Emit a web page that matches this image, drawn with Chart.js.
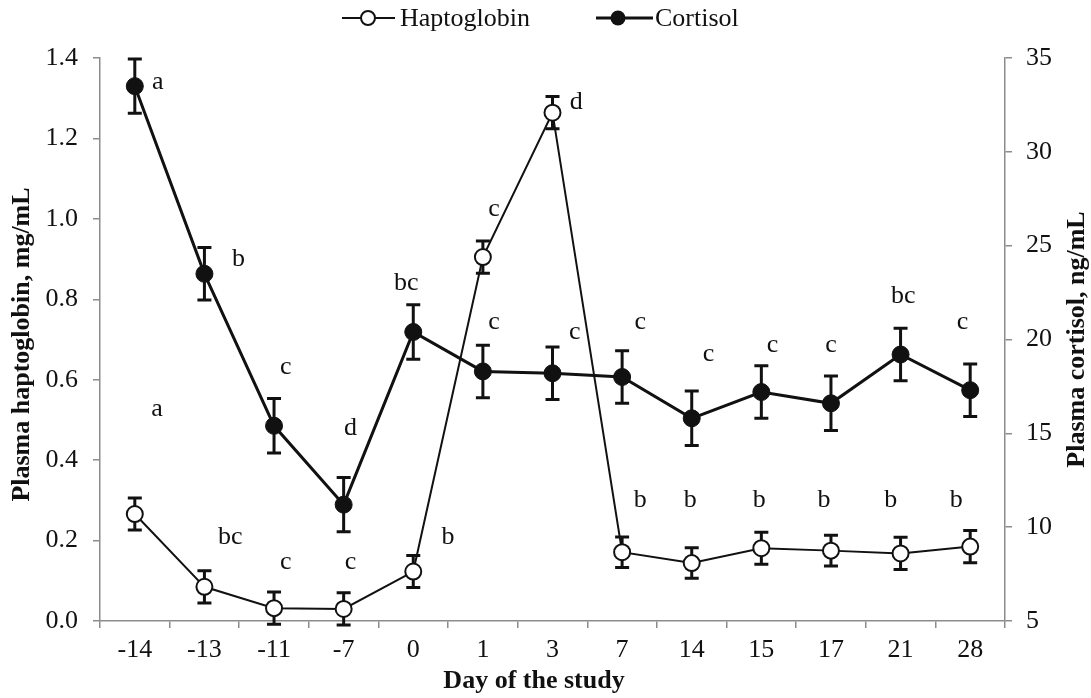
<!DOCTYPE html>
<html>
<head>
<meta charset="utf-8">
<script src="https://cdn.jsdelivr.net/npm/chart.js@4/dist/chart.umd.min.js"></script>
<style>
  html, body { margin: 0; padding: 0; background: #fff; }
  canvas { display: block; }
</style>
</head>
<body>
<canvas id="grafico" width="1091" height="698"></canvas>
<script>
// Días del estudio (eje X)
const dias = ['-14', '-13', '-11', '-7', '0', '1', '3', '7', '14', '15', '17', '21', '28'];

// Haptoglobina, mg/mL (eje izquierdo)
const haptoglobina = [0.266, 0.085, 0.032, 0.030, 0.123, 0.905, 1.264, 0.171, 0.144, 0.181, 0.175, 0.168, 0.185];
const haptoglobinaEE = [0.040, 0.040, 0.040, 0.040, 0.040, 0.040, 0.040, 0.038, 0.038, 0.040, 0.038, 0.040, 0.040];
const haptoglobinaLetras = ['a', 'bc', 'c', 'c', 'b', 'c', 'd', 'b', 'b', 'b', 'b', 'b', 'b'];

// Cortisol, ng/mL (eje derecho)
const cortisol = [33.5, 23.5, 15.4, 11.2, 20.4, 18.3, 18.2, 18.0, 15.8, 17.2, 16.6, 19.2, 17.3];
const cortisolEE = [1.45, 1.40, 1.45, 1.45, 1.45, 1.40, 1.40, 1.40, 1.45, 1.40, 1.45, 1.40, 1.40];
const cortisolLetras = ['a', 'b', 'c', 'd', 'bc', 'c', 'c', 'c', 'c', 'c', 'c', 'bc', 'c'];

// Ticks de los ejes
const ticksIzq = { min: 0, max: 1.4, paso: 0.2 };
const ticksDer = { min: 5, max: 35, paso: 5 };

// Colocación de las letras (desplazamiento en categorías, altura en unidades del eje)
const posLetrasHapto = [[0.32, 0.526], [0.37, 0.209], [0.17, 0.147], [0.10, 0.147], [0.50, 0.209], [0.16, 1.024],
    [0.34, 1.29], [0.26, 0.301], [-0.02, 0.301], [-0.03, 0.301], [-0.10, 0.301], [-0.14, 0.301], [-0.20, 0.301]];
const posLetrasCort = [[0.33, 33.7], [0.49, 24.3], [0.17, 18.5], [0.10, 15.3], [-0.10, 23.0], [0.16, 20.9],
    [0.32, 20.4], [0.26, 20.9], [0.24, 19.2], [0.16, 19.7], [0.0, 19.7], [0.04, 22.3], [-0.11, 20.9]];

const fuente = 'Liberation Serif, "Times New Roman", serif';
const gris = '#8c8c8c';
const negro = '#111';

// Barras de error (se dibujan antes de los puntos)
const barrasError = {
    id: 'barrasError',
    beforeDatasetsDraw(chart) {
        const ctx = chart.ctx;
        const x = chart.scales.x;
        ctx.save();
        ctx.strokeStyle = negro;
        ctx.lineWidth = 3;
        const dibujar = (valores, errores, escala) => {
            valores.forEach((v, i) => {
                const px = x.getPixelForValue(i);
                const arriba = escala.getPixelForValue(v + errores[i]);
                const abajo = escala.getPixelForValue(v - errores[i]);
                ctx.beginPath();
                ctx.moveTo(px, arriba); ctx.lineTo(px, abajo);
                ctx.moveTo(px - 7, arriba); ctx.lineTo(px + 7, arriba);
                ctx.moveTo(px - 7, abajo); ctx.lineTo(px + 7, abajo);
                ctx.stroke();
            });
        };
        dibujar(cortisol, cortisolEE, chart.scales.y1);
        dibujar(haptoglobina, haptoglobinaEE, chart.scales.y);
        ctx.restore();
    }
};

// Letras, títulos de ejes y leyenda
const textos = {
    id: 'textos',
    afterDraw(chart) {
        const ctx = chart.ctx;
        const x = chart.scales.x;
        const area = chart.chartArea;
        const ancho = x.getPixelForValue(1) - x.getPixelForValue(0);
        ctx.save();
        ctx.fillStyle = negro;
        ctx.textAlign = 'center';
        ctx.textBaseline = 'middle';
        ctx.font = '26px ' + fuente;
        haptoglobinaLetras.forEach((l, i) => {
            const p = posLetrasHapto[i];
            ctx.fillText(l, x.getPixelForValue(i) + p[0] * ancho, chart.scales.y.getPixelForValue(p[1]));
        });
        cortisolLetras.forEach((l, i) => {
            const p = posLetrasCort[i];
            ctx.fillText(l, x.getPixelForValue(i) + p[0] * ancho, chart.scales.y1.getPixelForValue(p[1]));
        });

        // títulos
        ctx.font = 'bold 26px ' + fuente;
        ctx.fillText('Day of the study', 534, 681);
        const centroY = (area.top + area.bottom) / 2;
        ctx.save();
        ctx.translate(22, centroY + 5);
        ctx.rotate(-Math.PI / 2);
        ctx.fillText('Plasma haptoglobin, mg/mL', 0, 0);
        ctx.restore();
        ctx.save();
        ctx.translate(1077, centroY);
        ctx.rotate(-Math.PI / 2);
        ctx.fillText('Plasma cortisol, ng/mL', 0, 0);
        ctx.restore();

        // leyenda
        ctx.font = '26px ' + fuente;
        ctx.textAlign = 'left';
        ctx.strokeStyle = negro;
        ctx.lineWidth = 2;
        ctx.beginPath(); ctx.moveTo(342, 18); ctx.lineTo(395, 18); ctx.stroke();
        ctx.beginPath(); ctx.arc(368, 18, 7, 0, Math.PI * 2);
        ctx.fillStyle = '#fff'; ctx.fill(); ctx.stroke();
        ctx.fillStyle = negro;
        ctx.fillText('Haptoglobin', 400, 19);
        ctx.lineWidth = 3;
        ctx.beginPath(); ctx.moveTo(596, 18); ctx.lineTo(653, 18); ctx.stroke();
        ctx.beginPath(); ctx.arc(618, 18, 7.5, 0, Math.PI * 2); ctx.fill();
        ctx.fillText('Cortisol', 655, 19);
        ctx.restore();
    }
};

new Chart(document.getElementById('grafico'), {
    type: 'line',
    data: {
        labels: dias,
        datasets: [
            {
                label: 'Cortisol',
                data: cortisol,
                yAxisID: 'y1',
                borderColor: negro,
                borderWidth: 3,
                pointRadius: 8.5,
                pointBackgroundColor: negro,
                pointBorderColor: negro,
                pointBorderWidth: 1,
                tension: 0,
                order: 2
            },
            {
                label: 'Haptoglobin',
                data: haptoglobina,
                yAxisID: 'y',
                borderColor: negro,
                borderWidth: 2,
                pointRadius: 8,
                pointBackgroundColor: '#fff',
                pointBorderColor: negro,
                pointBorderWidth: 2,
                tension: 0,
                order: 1
            }
        ]
    },
    options: {
        responsive: false,
        animation: false,
        devicePixelRatio: 1,
        layout: { padding: { top: 58, left: 0, right: 0, bottom: 0 } },
        plugins: {
            legend: { display: false },
            tooltip: { enabled: false }
        },
        scales: {
            x: {
                type: 'category',
                offset: true,
                grid: { offset: true, drawOnChartArea: false, tickLength: 7, color: gris, lineWidth: 1.5 },
                border: { color: gris, width: 1.5 },
                ticks: { font: { family: fuente, size: 26 }, color: negro, padding: 7, maxRotation: 0 },
                afterFit(scale) { scale.height = 77; }
            },
            y: {
                position: 'left',
                min: ticksIzq.min,
                max: ticksIzq.max,
                grid: { drawOnChartArea: false, tickLength: 7, color: gris, lineWidth: 1.5 },
                border: { color: gris, width: 1.5 },
                ticks: {
                    stepSize: ticksIzq.paso,
                    font: { family: fuente, size: 26 },
                    color: negro,
                    padding: 15,
                    callback: v => Number(v).toFixed(1)
                },
                afterFit(scale) { scale.width = 100; }
            },
            y1: {
                position: 'right',
                min: ticksDer.min,
                max: ticksDer.max,
                grid: { drawOnChartArea: false, tickLength: 7, color: gris, lineWidth: 1.5 },
                border: { color: gris, width: 1.5 },
                ticks: { stepSize: ticksDer.paso, font: { family: fuente, size: 26 }, color: negro, padding: 14 },
                afterFit(scale) { scale.width = 86; }
            }
        }
    },
    plugins: [barrasError, textos]
});
</script>
</body>
</html>
